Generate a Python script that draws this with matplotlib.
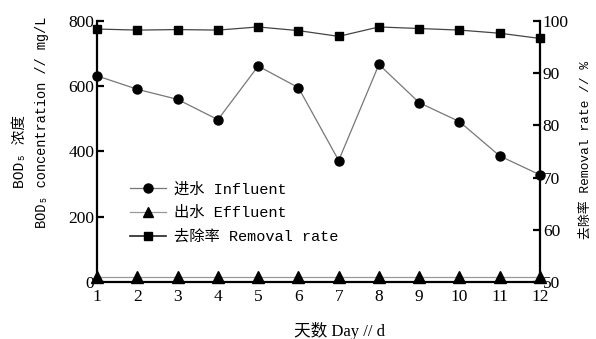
import matplotlib
matplotlib.use("Agg")
import matplotlib.pyplot as plt
from matplotlib.lines import Line2D

plt.rcParams['font.family'] = ['Liberation Serif', 'Noto Sans CJK SC', 'DejaVu Sans']

days = [1, 2, 3, 4, 5, 6, 7, 8, 9, 10, 11, 12]
influent = [631, 590, 559, 497, 661, 595, 372, 666, 549, 491, 386, 328]
effluent = [14, 14, 14, 14, 14, 14, 14, 14, 14, 14, 14, 14]
removal = [98.4, 98.2, 98.3, 98.2, 98.8, 98.1, 97.0, 98.8, 98.5, 98.2, 97.6, 96.6]

left_ticks = [0, 200, 400, 600, 800]
right_ticks = [50, 60, 70, 80, 90, 100]

mono = ['Liberation Mono', 'Noto Sans CJK SC', 'DejaVu Sans']
serif = ['Liberation Serif', 'Noto Sans CJK SC', 'DejaVu Sans']

fig = plt.figure(figsize=(5.96, 3.39), dpi=100)
ax = fig.add_axes([0.163, 0.168, 0.743, 0.771])
ax2 = ax.twinx()

ax.plot(days, influent, color='#777777', lw=0.9, marker='o', ms=6.5,
        mfc='black', mec='black', clip_on=False, zorder=3)
ax.plot(days, effluent, color='#999999', lw=0.9, marker='^', ms=8,
        mfc='black', mec='black', clip_on=False, zorder=3)
ax2.plot(days, removal, color='#444444', lw=0.9, marker='s', ms=6,
         mfc='black', mec='black', clip_on=False, zorder=3)

ax.set_xlim(1, 12)
ax.set_ylim(0, 800)
ax2.set_ylim(50, 100)
ax.set_xticks(days)
ax.set_yticks(left_ticks)
ax2.set_yticks(right_ticks)

for a in (ax, ax2):
    a.spines['top'].set_visible(False)
    for s in a.spines.values():
        s.set_linewidth(1.6)
ax.spines['right'].set_visible(False)
ax2.spines['left'].set_visible(False)
ax2.spines['bottom'].set_visible(False)

ax.tick_params(axis='y', direction='in', length=5, width=1.6, labelsize=12.5, pad=2)
ax.tick_params(axis='x', length=0, labelsize=12.5, pad=5)
ax2.tick_params(axis='y', direction='in', length=5, width=1.6, labelsize=12.5, pad=2)

# axis titles
fig.text(0.57, 0.024, '天数 Day // d', fontsize=12, family=serif,
         ha='center', va='center')
fig.text(0.034, 0.552, 'BOD₅ 浓度', fontsize=10.5, family=mono,
         rotation=90, ha='center', va='center')
fig.text(0.071, 0.64, 'BOD₅ concentration // mg/L', fontsize=9.8, family=mono,
         rotation=90, ha='center', va='center')
fig.text(0.983, 0.557, '去除率 Removal rate // %', fontsize=9.3, family=mono,
         rotation=90, ha='center', va='center')

handles = [
    Line2D([], [], color='#777777', lw=0.9, marker='o', ms=6.5, mfc='black', mec='black'),
    Line2D([], [], color='#999999', lw=0.9, marker='^', ms=7.5, mfc='black', mec='black'),
    Line2D([], [], color='#222222', lw=1.2, marker='s', ms=6, mfc='black', mec='black'),
]
labels = ['进水 Influent', '出水 Effluent', '去除率 Removal rate']
ax.legend(handles, labels, loc='upper left', bbox_to_anchor=(0.06, 0.405),
          frameon=False, prop={'family': mono, 'size': 11},
          handlelength=2.4, handletextpad=0.5, labelspacing=0.62,
          borderaxespad=0)

fig.savefig('out.png', dpi=100)
